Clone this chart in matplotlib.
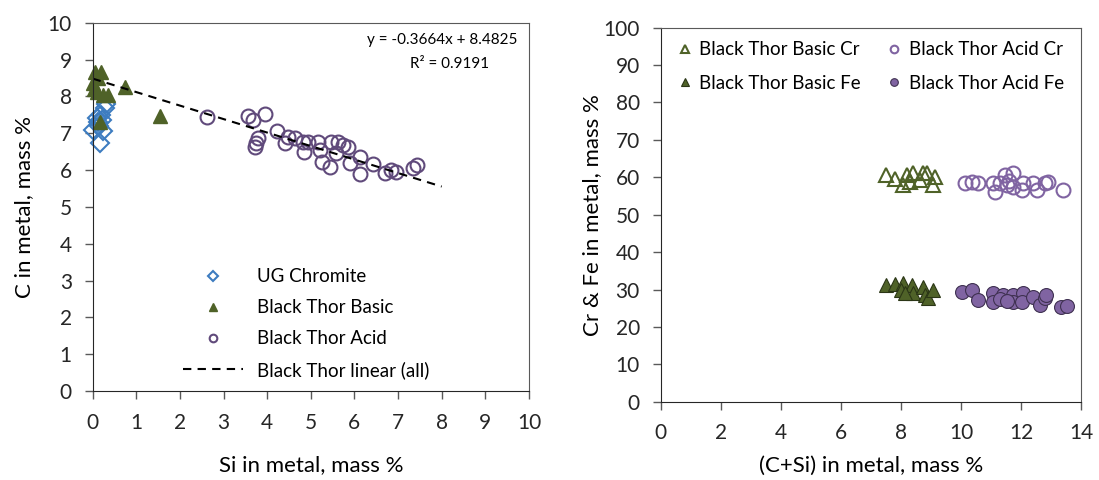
import numpy as np
import matplotlib
matplotlib.use('Agg')
import matplotlib.pyplot as plt

plt.rcParams['font.family'] = ['Lato', 'DejaVu Sans']
plt.rcParams['font.size'] = 15

# ---- left chart data (Si, C) ----
ug_si = [0.00, 0.18, 0.13, 0.20, 0.28, 0.22, 0.15, 0.10, 0.24, 0.30]
ug_c = [7.09, 6.73, 7.31, 7.49, 7.68, 7.35, 7.20, 7.40, 7.05, 7.80]

basic_si = [0.05, 0.20, 0.01, 0.36, 0.24, 0.74, 1.55, 0.18, 0.09, 0.12, 0.02]
basic_c = [8.67, 8.67, 8.35, 8.04, 8.04, 8.26, 7.47, 7.31, 8.13, 8.50, 8.20]

acid_si = [2.61, 3.56, 3.67, 3.94, 3.79, 3.74, 3.71, 4.22, 4.42, 4.48, 4.63,
           4.82, 4.84, 4.93, 5.16, 5.20, 5.26, 5.43, 5.47, 5.58, 5.62, 5.73,
           5.85, 5.89, 6.12, 6.12, 6.42, 6.69, 6.84, 6.96, 7.34, 7.43]
acid_c = [7.45, 7.47, 7.36, 7.51, 6.86, 6.73, 6.62, 7.07, 6.73, 6.91, 6.86,
          6.77, 6.50, 6.77, 6.77, 6.54, 6.23, 6.07, 6.77, 6.45, 6.77, 6.68,
          6.63, 6.18, 6.36, 5.89, 6.16, 5.93, 6.00, 5.95, 6.05, 6.14]

slope = -0.3664
intercept = 8.4825
trend_x = [0, 8]

# ---- right chart data (C+Si, Cr / Fe) ----
basic_cr_x = [7.50, 7.80, 8.06, 8.19, 8.41, 8.75, 8.86, 9.06, 9.13, 8.30, 8.63]
basic_cr = [60.6, 59.5, 57.9, 60.6, 61.1, 61.1, 61.2, 57.9, 60.2, 58.8, 59.3]

acid_cr_x = [10.13, 10.36, 10.58, 11.08, 11.13, 11.47, 11.74, 11.52, 11.74,
             12.02, 12.07, 12.41, 12.52, 12.80, 12.91, 13.39, 11.30, 11.60]
acid_cr = [58.4, 58.8, 58.4, 58.4, 56.2, 60.6, 61.2, 57.9, 57.5,
           56.6, 58.4, 58.4, 56.6, 58.4, 58.8, 56.6, 58.4, 59.0]

basic_fe_x = [7.50, 7.80, 8.08, 8.02, 8.36, 8.41, 8.13, 8.75, 8.80, 8.91, 9.08]
basic_fe = [31.2, 31.5, 31.7, 29.9, 31.2, 29.0, 29.0, 30.7, 28.5, 27.6, 29.9]

acid_fe_x = [10.02, 10.36, 10.58, 11.08, 11.08, 11.41, 11.74, 11.74, 12.07,
             12.02, 12.41, 12.63, 12.80, 12.85, 13.35, 13.52, 11.30, 11.55]
acid_fe = [29.4, 29.9, 27.2, 29.0, 26.7, 28.5, 28.5, 26.7, 29.0,
           26.7, 28.1, 25.9, 27.6, 28.5, 25.4, 25.6, 27.5, 27.0]

blue = '#3D7CC0'
green = '#4F6228'
purple_dark = '#604A7B'
purple = '#8064A2'

fig = plt.figure(figsize=(10.99, 4.8), dpi=100)
ax1 = fig.add_axes([0.0843, 0.1854, 0.397, 0.7673])
ax2 = fig.add_axes([0.6012, 0.1631, 0.3824, 0.7792])

# left chart
ax1.plot(ug_si, ug_c, 'D', ms=9.5, mfc='none', mec=blue, mew=1.5, label='UG Chromite', clip_on=False)
ax1.plot(basic_si, basic_c, '^', ms=10, color=green, mec=green, label='Black Thor Basic', clip_on=False)
ax1.plot(acid_si, acid_c, 'o', ms=10, mfc='none', mec=purple_dark, mew=1.5, label='Black Thor Acid')
tx = np.array(trend_x)
ax1.plot(tx, slope * tx + intercept, '--', color='black', lw=1.5, dashes=(4, 3),
         label='Black Thor linear (all)')
ax1.set_xlim(0, 10)
ax1.set_ylim(0, 10)
ax1.set_xticks(range(0, 11))
ax1.set_yticks(range(0, 11))
ax1.set_xlabel('Si in metal, mass %', fontsize=16, labelpad=16)
ax1.set_ylabel('C in metal, mass %', fontsize=16, labelpad=10)
ax1.text(0.80, 0.953, 'y = -0.3664x + 8.4825', transform=ax1.transAxes,
         ha='center', va='center', fontsize=11)
ax1.text(0.817, 0.888, 'R² = 0.9191', transform=ax1.transAxes,
         ha='center', va='center', fontsize=11)
ax1.legend(loc='lower left', bbox_to_anchor=(0.207, 0.033), frameon=False, fontsize=13.5,
           markerscale=0.55, handlelength=3.2, handletextpad=0.75, labelspacing=0.74,
           borderpad=0, borderaxespad=0)

# right chart
ax2.plot(basic_cr_x, basic_cr, '^', ms=10, mfc='none', mec=green, mew=1.5, label='Black Thor Basic Cr')
ax2.plot(basic_fe_x, basic_fe, '^', ms=10, mfc=green, mec='#2B3616', mew=0.8, label='Black Thor Basic Fe')
ax2.plot(acid_cr_x, acid_cr, 'o', ms=10, mfc='none', mec=purple, mew=1.5, label='Black Thor Acid Cr')
ax2.plot(acid_fe_x, acid_fe, 'o', ms=10, mfc=purple, mec='#3F3151', mew=0.8, label='Black Thor Acid Fe')
ax2.set_xlim(0, 14)
ax2.set_ylim(0, 100)
ax2.set_xticks(range(0, 15, 2))
ax2.set_yticks(range(0, 101, 10))
ax2.set_xlabel('(C+Si) in metal, mass %', fontsize=16, labelpad=9)
ax2.set_ylabel('Cr & Fe in metal, mass %', fontsize=16, labelpad=1)
ax2.legend(loc='upper left', ncol=2, frameon=False, fontsize=13.5, markerscale=0.55,
           handlelength=0.8, handletextpad=0.35, columnspacing=1.4, labelspacing=0.9,
           borderpad=0, borderaxespad=0, bbox_to_anchor=(0.04, 0.964))

for ax in (ax1, ax2):
    for s in ('left', 'bottom'):
        ax.spines[s].set_color('#262626')
    for s in ('top', 'right'):
        ax.spines[s].set_color('#595959')
    ax.tick_params(direction='out', length=5.5, width=1, color='#595959', pad=9.5, colors='#262626')
    ax.tick_params(axis='x', pad=10)

fig.savefig('out.png', dpi=100)
